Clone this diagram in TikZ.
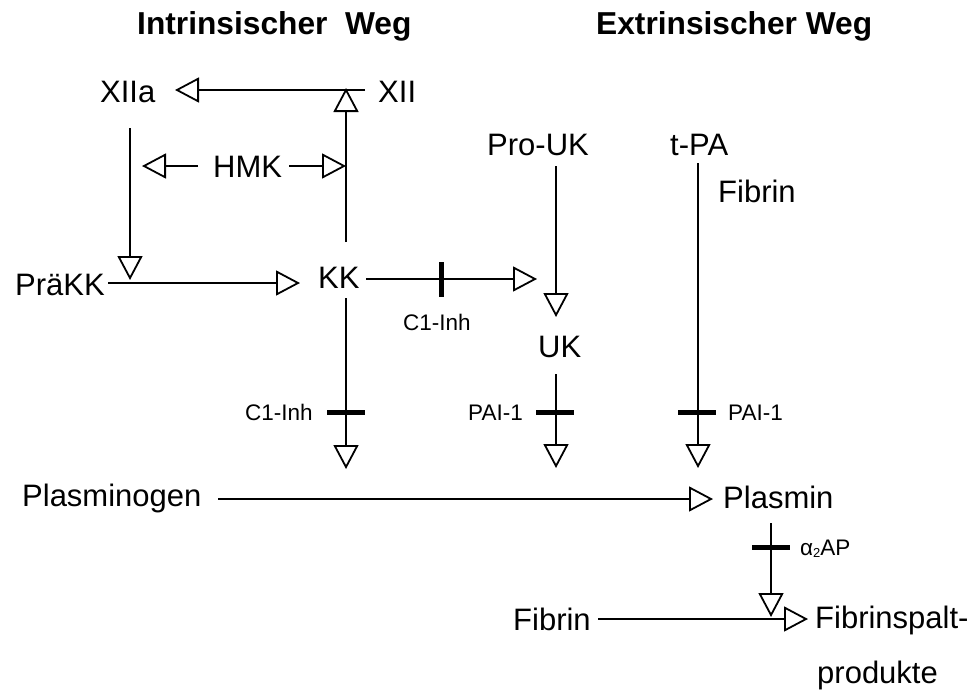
\documentclass[tikz,border=0pt]{standalone}
\usepackage{fontspec}
\setmainfont{Liberation Sans}
\usetikzlibrary{arrows.meta}
\tikzset{
 lbl/.style={inner sep=0pt, anchor=base west, font=\fontsize{31}{31}\selectfont},
 sm/.style={inner sep=0pt, anchor=base west, font=\fontsize{22.5}{22.5}\selectfont},
 ttl/.style={inner sep=0pt, anchor=base west, font=\fontsize{31.7}{31.7}\selectfont\bfseries},
 arr/.style={line width=1.8pt, -{Triangle[open, length=24pt, width=25pt, line width=1.8pt]}},
 inhbar/.style={line width=5pt},
}
\begin{document}
\begin{tikzpicture}[x=1pt,y=-1pt]
\useasboundingbox (0,0) rectangle (976,693);
% titles
\node[ttl] (t1) at (137,35) {Intrinsischer\ \ Weg};
\node[ttl] (t2) at (596,35) {Extrinsischer Weg};
% main labels
\node[lbl] (XIIa) at (100,102) {XIIa};
\node[lbl] (XII) at (378,102) {XII};
\node[lbl] (HMK) at (213,177) {HMK};
\node[lbl] (PraKK) at (15,295) {PräKK};
\node[lbl] (KK) at (318,288) {KK};
\node[lbl] (ProUK) at (487,155) {Pro-UK};
\node[lbl] (tPA) at (670,155) {t-PA};
\node[lbl] (Fib1) at (718,202) {Fibrin};
\node[lbl] (UK) at (538,357) {UK};
\node[lbl] (Plg) at (22,506) {Plasminogen};
\node[lbl] (Pl) at (723,508) {Plasmin};
\node[lbl] (Fib2) at (513,630) {Fibrin};
\node[lbl] (FSP) at (815,628) {Fibrinspalt-};
\node[lbl] (prod) at (817,683) {produkte};
% inhibitor labels
\node[sm] (inh1) at (403,330) {C1-Inh};
\node[sm] (inh2) at (245,420) {C1-Inh};
\node[sm] (pai1) at (468,420) {PAI-1};
\node[sm] (pai2) at (728,420) {PAI-1};
\node[sm] (a2ap) at (800,555) {α\raisebox{-2pt}{\fontsize{13}{13}\selectfont 2}AP};
% connector end points
\coordinate (xiiS) at (365,90);   \coordinate (xiiaE) at (175,90);
\coordinate (kkN) at (346,242);   \coordinate (xiiJ) at (346,88);
\coordinate (hmkW) at (198,166);  \coordinate (hmkWt) at (142,166);
\coordinate (hmkE) at (289,166);  \coordinate (hmkEt) at (346,166);
\coordinate (xiiaS) at (130,128); \coordinate (xiiaT) at (130,280);
\coordinate (prakkE) at (108,283);\coordinate (kkW) at (300,283);
\coordinate (kkE) at (366,279);   \coordinate (ukJ) at (537,279);
\coordinate (kkS) at (346,298);   \coordinate (kkT) at (346,469);
\coordinate (proS) at (556,166);  \coordinate (ukN) at (556,317);
\coordinate (ukS) at (556,374);   \coordinate (ukT) at (556,468);
\coordinate (tpaS) at (698,163);  \coordinate (tpaT) at (698,468);
\coordinate (plgE) at (218,499);  \coordinate (plW) at (713,499);
\coordinate (plS) at (771,523);   \coordinate (plT) at (771,617);
\coordinate (fibE) at (598,619);  \coordinate (fspW) at (808,619);
% connectors
\draw[arr] (xiiS) -- (xiiaE);
\draw[arr] (kkN) -- (xiiJ);
\draw[arr] (hmkW) -- (hmkWt);
\draw[arr] (hmkE) -- (hmkEt);
\draw[arr] (xiiaS) -- (xiiaT);
\draw[arr] (prakkE) -- (kkW);
\draw[arr] (kkE) -- (ukJ);
\draw[arr] (kkS) -- (kkT);
\draw[arr] (proS) -- (ukN);
\draw[arr] (ukS) -- (ukT);
\draw[arr] (tpaS) -- (tpaT);
\draw[arr] (plgE) -- (plW);
\draw[arr] (plS) -- (plT);
\draw[arr] (fibE) -- (fspW);
% inhibition bars
\draw[inhbar] (441,262) -- (441,297);
\draw[inhbar] (327,412) -- (365,412);
\draw[inhbar] (536,412) -- (574,412);
\draw[inhbar] (678,412) -- (716,412);
\draw[inhbar] (752,547) -- (790,547);
\end{tikzpicture}
\end{document}
